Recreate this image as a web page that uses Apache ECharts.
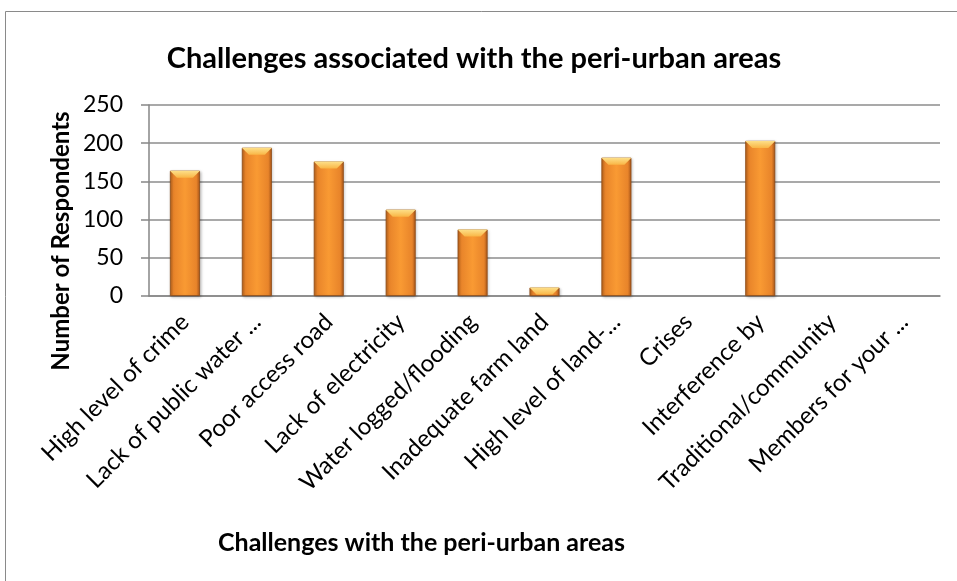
<!DOCTYPE html>
<html>
<head>
<meta charset="utf-8">
<script src="https://cdn.jsdelivr.net/npm/echarts@6/dist/echarts.min.js"></script>
<style>
  html, body { margin: 0; padding: 0; background: #fff; }
  #chart { width: 957px; height: 581px; }
</style>
</head>
<body>
<div id="chart"></div>
<script>
// categories as shown (truncated like the original)
const categories = [
  'High level of crime',
  'Lack of public water ...',
  'Poor access road',
  'Lack of electricity',
  'Water logged/flooding',
  'Inadequate farm land',
  'High level of land-...',
  'Crises',
  'Interference by',
  'Traditional/community',
  'Members for your ...'
];
const respondents = [164, 194, 176, 113, 87, 11, 181, 0, 203, 0, 0];
const yTicks = [0, 50, 100, 150, 200, 250];

const font = 'Lato, "Open Sans", sans-serif';
const chart = echarts.init(document.getElementById('chart'));

const bodyColor = new echarts.graphic.LinearGradient(0, 0, 1, 0, [
  { offset: 0, color: '#B9631C' },
  { offset: 0.12, color: '#E8842A' },
  { offset: 0.5, color: '#F99A33' },
  { offset: 0.88, color: '#E8842A' },
  { offset: 1, color: '#A9561A' }
]);

// zero values get no visible bar
const barData = respondents.map(v => (v > 0 ? v : { value: v, itemStyle: { opacity: 0 } }));

chart.setOption({
  animation: false,
  title: {
    text: 'Challenges associated with the peri-urban areas',
    left: 469, top: 39, textAlign: 'center',
    textStyle: { fontFamily: font, fontSize: 29, fontWeight: 'bold', color: '#000' }
  },
  graphic: [{
    type: 'rect', shape: { x: 5.5, y: 11.5, width: 960, height: 600 },
    style: { fill: 'none', stroke: '#8a8a8a', lineWidth: 1 }, silent: true
  }, {
    type: 'text', x: 61, y: 241, rotation: Math.PI / 2,
    style: {
      text: 'Number of Respondents', fill: '#000',
      font: 'bold 24px ' + font, align: 'center', verticalAlign: 'middle'
    }
  }],
  grid: { left: 149, right: 17, top: 105, bottom: 285, containLabel: false },
  xAxis: {
    type: 'category',
    data: categories,
    name: 'Challenges with the peri-urban areas',
    nameLocation: 'middle',
    nameGap: 234,
    nameTextStyle: { fontFamily: font, fontSize: 25, fontWeight: 'bold', color: '#000', padding: [0, 246, 0, 0] },
    axisLine: { lineStyle: { color: '#868686', width: 1.5 } },
    axisTick: { show: false },
    axisLabel: { rotate: 45, margin: 22, fontFamily: font, fontSize: 24, color: '#000', interval: 0 }
  },
  yAxis: {
    type: 'value',
    min: 0, max: 250, interval: 50,
    axisLine: { show: true, lineStyle: { color: '#868686', width: 1.5 } },
    axisTick: { show: true, inside: false, length: 8, lineStyle: { color: '#868686', width: 1.5 } },
    axisLabel: {
      fontFamily: font, fontSize: 23, color: '#000', margin: 26,
      formatter: v => (yTicks.indexOf(v) >= 0 ? String(v) : '')
    },
    splitLine: { lineStyle: { color: '#8c8c8c', width: 1.5 } }
  },
  series: [{
    type: 'bar',
    data: barData,
    barWidth: 30,
    itemStyle: {
      color: bodyColor,
      borderColor: '#8E4A14', borderWidth: 0.8,
      shadowColor: 'rgba(0,0,0,0.25)', shadowBlur: 3, shadowOffsetX: 1, shadowOffsetY: 1
    }
  }, {
    // bevelled cap on top of each bar
    type: 'custom',
    data: respondents,
    z: 3,
    renderItem: function (params, api) {
      const v = api.value(1);
      if (v <= 0) return null;
      const top = api.coord([api.value(0), v]);
      const base = api.coord([api.value(0), 0]);
      const w = 30;
      const h = Math.min(7, base[1] - top[1]);
      const x0 = top[0] - w / 2, x1 = top[0] + w / 2;
      return {
        type: 'polygon',
        shape: { points: [[x0, top[1]], [x1, top[1]], [x1 - h, top[1] + h], [x0 + h, top[1] + h]] },
        style: {
          fill: new echarts.graphic.LinearGradient(0, 0, 0, 1, [
            { offset: 0, color: '#FDE08A' },
            { offset: 1, color: '#F9B646' }
          ])
        }
      };
    }
  }]
});
</script>
</body>
</html>
